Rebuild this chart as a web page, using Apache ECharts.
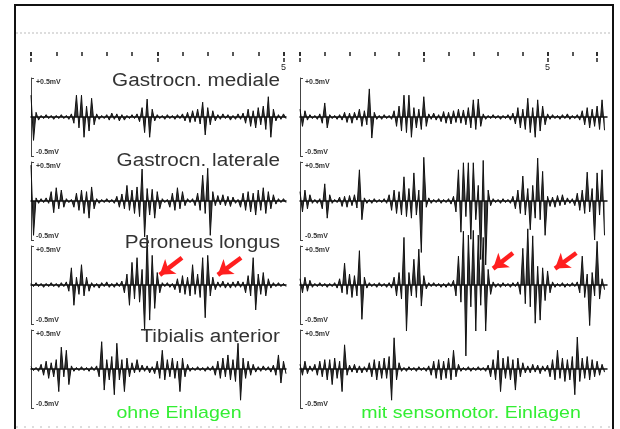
<!DOCTYPE html>
<html>
<head>
<meta charset="utf-8">
<script src="https://cdn.jsdelivr.net/npm/echarts@6/dist/echarts.min.js"></script>
<style>
  html, body { margin: 0; padding: 0; background: #fff; }
  #main { width: 620px; height: 429px; }
</style>
</head>
<body>
<div id="main"></div>
<script>
// EMG traces, peak values in 0.01 mV, one value every 0.05 s
const STEP = 0.05;

const medialeOhne = [28,-30,6,-4,2,-2,3,-2,2,-3, 2,-2,3,-2,2,-3,4,-8,28,-14,
  28,-26,14,-18,24,-10,4,-3,2,-2, 3,-4,5,-3,4,-5,3,-4,2,-2,
  3,-2,4,-6,12,-20,23,-26,10,-5, 3,-2,2,-3,3,-2,2,-3,3,-2,
  4,-5,6,-7,8,-6,10,-9,19,-23, 12,-10,8,-5,3,-3,4,-2,3,-4,
  2,-3,4,-3,5,-8,10,-12,8,-14, 12,-10,14,-16,26,-26,10,-5,3,-3, 4,-2];
const medialeMit = [10,-12,8,-4,3,-2,2,-3,4,-8, 18,-14,3,-2,2,-3,3,-4,6,-7,
  5,-8,6,-4,10,-12,8,-10,36,-27, 6,-3,2,-3,3,-2,2,-3,8,-12,
  14,-18,28,-20,28,-26,12,-14,10,-16, 26,-12,4,-3,5,-4,3,-6,7,-8,
  6,-9,8,-7,10,-8,9,-10,12,-14, 22,-16,23,-12,4,-3,2,-2,3,-2,
  2,-3,2,-2,3,-4,5,-9,12,-14, 10,-16,24,-20,12,-26,22,-18,14,-10,
  4,-3,3,-2,2,-3,3,-2,4,-3, 2,-2,3,-4,8,-10,12,-14,10,-12, 14,-16,22,-17];

const lateraleOhne = [46,-44,4,-3,3,-2,4,-3,12,-15, 17,-10,14,-8,3,-2,2,-8,10,-12,
  14,-16,12,-22,18,-10,3,-3,2,-2, 3,-2,2,-3,6,-8,9,-10,20,-12,
  14,-16,18,-20,41,-46,16,-18,15,-22, 12,-10,3,-2,2,-8,10,-12,17,-10,
  12,-6,3,-2,3,-6,10,-12,33,-16, 42,-44,12,-6,7,-5,8,-6,6,-7,
  5,-3,2,-8,10,-12,12,-14,10,-18, 14,-12,17,-16,12,-10,8,-4,3,-2, 3,-2];
const lateraleMit = [12,-14,14,-10,8,-3,2,-3,3,-10, 22,-22,8,-3,2,-2,5,-7,6,-8,
  7,-6,8,-9,40,-24,4,-3,2,-3, 3,-2,2,-2,3,-3,8,-12,14,-16,
  12,-18,31,-20,16,-22,36,-18,14,-66, 56,-8,4,-3,2,-2,3,-3,2,-2,
  3,-4,6,-14,40,-40,49,-20,49,-49, 49,-24,20,-75,52,-82,14,-6,3,-2,
  2,-3,3,-2,2,-3,6,-10,14,-16, 32,-18,16,-37,20,-22,55,-24,38,-44,
  6,-7,5,-8,7,-6,8,-5,4,-3, 3,-6,10,-12,14,-16,37,-14,16,-50, 36,-18,40,-44];

const peroneusOhne = [2,-2,3,-2,2,-3,2,-2,3,-2, 2,-3,3,-2,4,-8,22,-26,10,-12,
  26,-14,10,-8,3,-3,2,-4,3,-2, 4,-3,2,-3,3,-2,5,-10,14,-26,
  29,-18,35,-22,20,-58,64,-45,38,-30, 16,-10,3,-2,3,-3,2,-6,8,-10,
  12,-12,10,-14,26,-12,14,-16,35,-42, 38,-14,10,-6,4,-3,5,-4,3,-4,
  4,-3,5,-3,4,-10,12,-14,35,-32, 14,-12,16,-14,8,-4,3,-2,3,-2, 2,-2];
const peroneusMit = [8,-10,10,-8,6,-3,2,-2,3,-2, 2,-3,2,-2,3,-4,8,-10,28,-12,
  14,-16,12,-14,44,-44,10,-4,3,-2, 2,-3,3,-2,2,-3,3,-4,10,-14,
  16,-18,61,-59,16,-14,33,-16,46,-27, 12,-5,3,-2,3,-2,2,-3,2,-3,
  3,-2,6,-14,37,-22,69,-91,64,-28, 70,-59,64,-26,61,-59,20,-12,4,-3,
  2,-3,3,-2,2,-3,3,-2,4,-12, 47,-24,72,-28,63,-49,24,-45,22,-20,
  18,-10,4,-3,2,-2,3,-3,2,-2, 3,-2,4,-10,37,-16,14,-52,16,-14, 56,-18,8,-6];

const tibialisOhne = [3,-2,2,-3,6,-8,10,-12,8,-10, 12,-29,28,-10,24,-20,4,-3,2,-2,
  3,-2,2,-3,3,-2,4,-10,35,-27, 12,-14,16,-33,33,-14,12,-29,14,-10,
  8,-5,12,-4,5,-3,4,-5,3,-6, 10,-12,24,-14,12,-10,14,-12,10,-29,
  14,-10,6,-3,2,-2,3,-2,2,-3, 3,-2,4,-8,10,-12,14,-10,18,-14,
  12,-16,33,-40,14,-12,10,-8,6,-4, 3,-3,4,-2,3,-4,5,-8,18,-18, 10,-6];
const tibialisMit = [6,-8,10,-6,4,-3,6,-8,10,-10, 12,-14,12,-20,14,-12,10,-29,31,-8,
  5,-4,6,-5,4,-5,3,-4,8,-10, 12,-14,10,-12,14,-12,16,-40,40,-14,
  8,-3,2,-3,3,-2,2,-3,3,-2, 2,-3,4,-8,10,-12,12,-14,10,-12,
  14,-14,24,-10,6,-3,2,-2,3,-3, 2,-2,3,-2,2,-3,5,-10,12,-14,
  24,-29,14,-12,16,-14,12,-27,14,-10, 8,-5,4,-5,6,-4,5,-6,4,-3,
  5,-10,12,-14,24,-12,14,-16,12,-14, 16,-33,41,-16,14,-12,16,-14,12,-10, 10,-8,6,-4];

const muscleNames = ['Gastrocn. mediale', 'Gastrocn. laterale', 'Peroneus longus', 'Tibialis anterior'];
const conditionNames = ['ohne Einlagen', 'mit sensomotor. Einlagen'];
const rangeLabels = ['+0.5mV', '-0.5mV'];
const timeTicksOhne = [0, 5];   // s
const timeTicksMit = [0, 6];    // s

// red arrows on Peroneus longus: [t from, mV from, t to, mV to]
const arrowsOhne = [[2.99, 0.35, 2.55, 0.13], [4.16, 0.35, 3.70, 0.13]];
const arrowsMit = [[4.30, 0.41, 3.90, 0.21], [5.58, 0.41, 5.15, 0.21]];

const ohne = [medialeOhne, lateraleOhne, peroneusOhne, tibialisOhne];
const mit = [medialeMit, lateraleMit, peroneusMit, tibialisMit];

function trace(vals) {
  return vals.map((v, i) => [+(i * STEP).toFixed(2), v / 100]);
}

const rowTop = [78, 162, 246, 330];
const rowH = 78;
const textFont = '"Liberation Sans", Arial, sans-serif';

const grid = [], xAxis = [], yAxis = [], series = [];

function addTrace(data, left, width, xmax, top, arrows) {
  const g = grid.length;
  grid.push({ left: left, top: top, width: width, height: rowH });
  // x axis line sits on 0 mV and makes the trace baseline
  xAxis.push({
    type: 'value', gridIndex: g, min: 0, max: xmax,
    axisLine: { show: true, onZero: true, lineStyle: { color: '#111', width: 1.5 } },
    axisTick: { show: false }, axisLabel: { show: false }, splitLine: { show: false }
  });
  yAxis.push({
    type: 'value', gridIndex: g, min: -0.5, max: 0.5, position: 'left',
    axisLine: { show: true, onZero: false, lineStyle: { color: '#444', width: 1 } },
    axisTick: { show: true, inside: true, length: 3, customValues: [-0.5, 0.5], lineStyle: { color: '#444' } },
    axisLabel: {
      show: true, inside: true, margin: 5, customValues: [-0.5, 0.5],
      formatter: v => v > 0 ? '{t|' + rangeLabels[0] + '}' : '{b|' + rangeLabels[1] + '}',
      rich: {
        t: { fontSize: 7, fontWeight: 'bold', color: '#333', fontFamily: textFont, padding: [8, 0, 0, 0] },
        b: { fontSize: 7, fontWeight: 'bold', color: '#333', fontFamily: textFont, padding: [0, 0, 8, 0] }
      }
    },
    splitLine: { show: false }
  });
  const s = {
    type: 'line', xAxisIndex: g, yAxisIndex: g, data: trace(data),
    symbol: 'none', showSymbol: false, clip: false, silent: true,
    lineStyle: { color: '#111', width: 1 },
    areaStyle: { color: '#111', opacity: 0.85, origin: 0 }
  };
  if (arrows) {
    s.markLine = {
      silent: true, symbol: ['none', 'arrow'], symbolSize: 14,
      lineStyle: { color: '#ff1f1f', width: 4.5, type: 'solid', opacity: 1 },
      label: { show: false },
      data: arrows.map(a => [{ coord: [a[0], a[1]] }, { coord: [a[2], a[3]] }])
    };
  }
  series.push(s);
}

for (let r = 0; r < 4; r++) addTrace(ohne[r], 31, 255, 5.05, rowTop[r], r === 2 ? arrowsOhne : null);
for (let r = 0; r < 4; r++) addTrace(mit[r], 300, 307, 6.2, rowTop[r], r === 2 ? arrowsMit : null);

// time ruler above the traces
function addRuler(left, width, ticks) {
  const g = grid.length;
  grid.push({ left: left, top: 61, width: width, height: 1 });
  yAxis.push({ type: 'value', gridIndex: g, show: false, min: 0, max: 1 });
  xAxis.push({
    type: 'value', gridIndex: g, position: 'top', min: ticks[0], max: ticks[1], interval: 2.5,
    axisLine: { show: false },
    axisTick: { show: true, length: 10, lineStyle: { color: '#222', width: 1.5, type: [4, 2] } },
    axisLabel: { show: true, inside: true, margin: 2, fontSize: 9, color: '#222', fontFamily: textFont,
      formatter: v => v === 5 ? '5' : '' },
    splitLine: { show: false }
  });
  xAxis.push({
    type: 'value', gridIndex: g, position: 'top', offset: 5, min: ticks[0], max: ticks[1], interval: 0.5,
    axisLine: { show: false },
    axisTick: { show: true, length: 4, lineStyle: { color: '#222', width: 1.5 } },
    axisLabel: { show: false },
    splitLine: { show: false }
  });
}
addRuler(31, 252.5, timeTicksOhne);
addRuler(300, 297, timeTicksMit);

const nameY = [81.5, 161, 243, 337];
const graphic = [
  { type: 'rect', shape: { x: 15, y: 5, width: 598, height: 440 }, style: { fill: 'none', stroke: '#111', lineWidth: 2 }, z: 0 },
  { type: 'line', shape: { x1: 16, y1: 33, x2: 612, y2: 33 }, style: { stroke: '#bbb', lineWidth: 1, lineDash: [2, 2] } },
  { type: 'line', shape: { x1: 16, y1: 427, x2: 612, y2: 427 }, style: { stroke: '#bbb', lineWidth: 1, lineDash: [2, 6] } }
];
muscleNames.forEach((n, r) => graphic.push({
  type: 'text', x: 280, y: nameY[r], scaleX: 1.15, z: 10,
  style: { text: n, fontSize: 18, fontFamily: textFont, fill: '#333', align: 'right', verticalAlign: 'middle' }
}));
conditionNames.forEach((n, c) => graphic.push({
  type: 'text', x: c === 0 ? 179 : 471, y: 413, scaleX: 1.15, z: 10,
  style: { text: n, fontSize: 17, fontFamily: textFont, fill: '#33ee33', align: 'center', verticalAlign: 'middle' }
}));

const chart = echarts.init(document.getElementById('main'), null, { renderer: 'canvas' });
chart.setOption({
  animation: false,
  backgroundColor: '#fff',
  grid: grid,
  xAxis: xAxis,
  yAxis: yAxis,
  series: series,
  graphic: graphic
});
</script>
</body>
</html>
